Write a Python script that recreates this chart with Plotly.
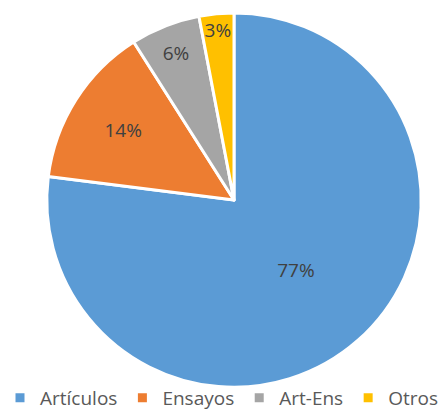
import plotly.graph_objects as go

labels = ["Artículos", "Ensayos", "Art-Ens", "Otros"]
values = [77, 14, 6, 3]
colors = ["#5B9BD5", "#ED7D31", "#A5A5A5", "#FFC000"]

fig = go.Figure(go.Pie(
    labels=labels,
    values=values,
    sort=False,
    direction="clockwise",
    rotation=0,
    marker=dict(colors=colors, line=dict(color="white", width=3)),
    textinfo="percent",
    texttemplate="%{percent:.0%}",
    textposition="inside",
    insidetextorientation="horizontal",
    textfont=dict(family="Open Sans", size=19, color="#404040"),
    domain=dict(x=[44 / 445, 424 / 445], y=[26 / 417, 404 / 417]),
    hoverinfo="label+percent",
))

fig.update_layout(
    width=445, height=417,
    margin=dict(l=0, r=0, t=0, b=0),
    paper_bgcolor="white",
    showlegend=True,
    uniformtext=dict(minsize=19, mode="show"),
    legend=dict(
        orientation="h", x=0, xanchor="left", y=-0.01, yanchor="bottom",
        bgcolor="rgba(0,0,0,0)",
        font=dict(family="Open Sans", size=19, color="#595959"),
        itemwidth=30,
    ),
)

# page body has an 8px default margin; drop it so the figure sits at 0,0
fig.write_html(
    "out.html",
    config={"displayModeBar": False},
    post_script="document.body.style.margin='0';",
)
